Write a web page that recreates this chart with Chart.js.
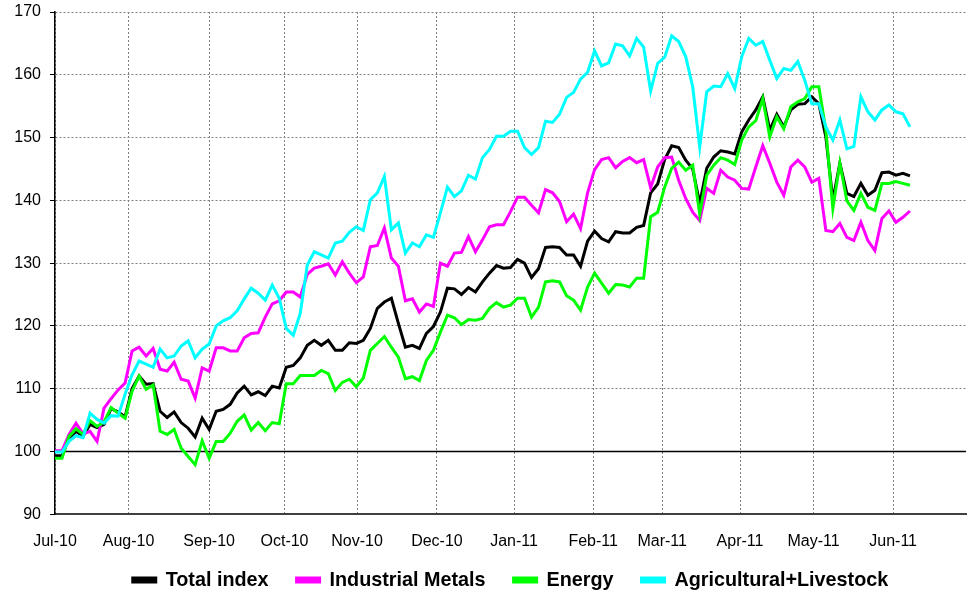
<!DOCTYPE html>
<html>
<head>
<meta charset="utf-8">
<title>Commodity indices</title>
<script src="https://cdn.jsdelivr.net/npm/chart.js@4.4.1/dist/chart.umd.min.js"></script>
<style>
    html, body { margin: 0; padding: 0; background: #fff; }
</style>
</head>
<body>
<canvas id="indexChart" width="967" height="594"></canvas>
<script>
// Month labels and the trading-day index where each month starts
const monthLabels = ['Jul-10', 'Aug-10', 'Sep-10', 'Oct-10', 'Nov-10', 'Dec-10',
    'Jan-11', 'Feb-11', 'Mar-11', 'Apr-11', 'May-11', 'Jun-11'];
const monthDays = [0, 21, 44, 65.5, 86.2, 109, 131, 153.6, 173.3, 195.5, 216.5, 239.2];

// Sample every second trading day (0 .. 244)
const days = Array.from({ length: 123 }, (_, i) => i * 2);

const totalIndex = [
    99.3, 99.3, 102.1, 103.2, 102.4, 104.3, 103.8, 104.3, 106.8, 106.3, 105.5, 110, 112, 110.7,
    110.8, 106.4, 105.4, 106.3, 104.6, 103.7, 102.3, 105.3, 103.5, 106.4, 106.7, 107.5, 109.3, 110.4,
    109, 109.5, 108.9, 110.4, 110.1, 113.4, 113.7, 114.9, 116.9, 117.7, 116.9, 117.7, 116.1, 116.1, 117.3,
    117.2, 117.7, 119.6, 122.8, 123.8, 124.4, 120.4, 116.6, 116.9, 116.4, 118.8, 119.9, 122.2, 126, 125.9,
    125, 126.1, 125.4, 127, 128.4, 129.6, 129.2, 129.3, 130.6, 130, 127.7, 129.1, 132.5, 132.6,
    132.5, 131.3, 131.3, 129.5, 133.5, 135.1, 133.9, 133.4, 135, 134.8, 134.8, 135.7, 136,
    141.2, 142.6, 146.5, 148.7, 148.4, 146.4, 145, 139.5, 145.1, 146.9, 147.9, 147.7, 147.4, 150.9,
    152.8, 154.4, 156.5, 151.2, 153.7, 151.7, 154.4, 155.3, 155.4, 156.5, 155.4, 150.1, 140, 145.9,
    141.1, 140.6, 142.7, 140.8, 141.6, 144.4, 144.5, 144, 144.3, 143.9
];

const industrialMetals = [
    100.1, 100.1, 102.7, 104.5, 102.8, 103.2, 101.6, 106.9, 108.4, 109.8, 110.9, 116, 116.6, 115.2,
    116.4, 113.1, 112.8, 114.2, 111.5, 111.2, 108.5, 113.3, 112.8, 116.5, 116.5, 116, 116, 118.1,
    118.8, 118.9, 121.4, 123.5, 124, 125.4, 125.4, 124.6, 128.2, 129.2, 129.5, 129.9, 128.1, 130.2, 128.4,
    126.9, 127.8, 132.6, 132.8, 135.6, 130.8, 129.5, 124, 124.3, 122.2, 123.5, 123.1, 130, 129.5, 131.6,
    131.7, 134.2, 131.8, 133.7, 135.8, 136.1, 136.1, 138.2, 140.5, 140.5, 139.2, 138, 141.7, 141.2,
    139.8, 136.6, 137.8, 135.5, 141.2, 144.9, 146.5, 146.8, 145.2, 146.2, 146.8, 146, 146.5,
    142, 145.3, 146.8, 146.9, 143.2, 140.3, 138.1, 136.8, 141.9, 141.1, 144.8, 143.7, 143.2, 141.9,
    141.8, 145.3, 148.7, 145.9, 142.9, 140.8, 145.3, 146.4, 145.3, 142.9, 143.5, 135.2, 135, 136.3,
    134.1, 133.6, 136.5, 133.6, 132, 137.1, 138.3, 136.5, 137.3, 138.3
];

const energy = [
    98.9, 98.9, 102.4, 103.6, 102.7, 104.9, 104, 104.7, 107, 106.1, 105.3, 109.6, 112, 109.9,
    110.6, 103.2, 102.7, 103.5, 100.5, 99.2, 97.9, 101.7, 98.9, 101.6, 101.6, 102.9, 104.8, 105.8,
    103.4, 104.6, 103.3, 104.6, 104.4, 110.8, 110.8, 112.1, 112.1, 112.1, 112.9, 112.4, 109.7, 111, 111.5,
    110.3, 111.7, 116.1, 117.2, 118.3, 116.6, 115, 111.6, 111.9, 111.3, 114.5, 116.1, 119, 121.7, 121.3,
    120.2, 121, 120.9, 121.2, 122.8, 123.7, 123, 123.3, 124.4, 124.4, 121.4, 123, 127, 127.2,
    127, 124.8, 124.1, 122.5, 126.2, 128.4, 126.8, 125.2, 126.6, 126.5, 126.2, 127.6, 127.6,
    137.4, 138.1, 142.1, 145.1, 146.1, 144.8, 145.6, 137.8, 144, 145.6, 146.8, 146.4, 145.7, 149.6,
    151.7, 152.7, 156.2, 150.1, 153.3, 151.4, 154.9, 155.7, 156.2, 158.1, 158.1, 151.2, 138.7, 145.9,
    139.9, 138.4, 141.1, 138.9, 138.4, 142.7, 142.7, 143, 142.7, 142.4
];

const agriLivestock = [
    99.9, 99.9, 101.6, 102.5, 102.2, 106.1, 105.1, 104.5, 105.7, 105.6, 109.1, 112.2, 114.4, 113.9,
    113.4, 116.3, 114.9, 115.2, 116.8, 117.6, 114.9, 116.3, 117.1, 120, 120.8, 121.3, 122.4, 124.3,
    126, 125.2, 124.1, 126.5, 124.4, 119.6, 118.5, 122, 129.7, 131.8, 131.3, 130.8, 133.2, 133.5, 134.9,
    135.8, 135.2, 140.1, 141.2, 143.8, 135.3, 136.4, 131.6, 133.2, 132.6, 134.5, 134.1, 138, 142.1, 140.6,
    141.5, 144, 143.4, 146.8, 148.1, 150.2, 150.2, 151, 151, 148.4, 147.3, 148.4, 152.6, 152.4,
    153.7, 156.4, 157.2, 159.3, 160.4, 163.8, 161.4, 161.9, 164.9, 164.6, 163, 165.8, 164.4,
    157.4, 161.8, 162.8, 166.2, 165.3, 162.9, 158.1, 148.5, 157.3, 158.2, 158.1, 160.2, 157.8, 162.9,
    165.8, 164.7, 165.3, 162.3, 159.4, 161, 160.7, 162.1, 159.1, 155.4, 155.4, 151.7, 149.6, 152.8,
    148.2, 148.6, 156.5, 154.1, 152.8, 154.4, 155.2, 154.1, 153.8, 151.7
];

function toPoints(values) {
    return values.map((v, i) => ({ x: days[i], y: v }));
}

function makeDataset(label, values, color, order) {
    return {
        label: label,
        data: toPoints(values),
        borderColor: color,
        backgroundColor: color,
        borderWidth: 3,
        pointRadius: 0,
        tension: 0,
        order: order
    };
}

// solid line at 100 drawn under the series
const baselinePlugin = {
    id: 'baseline',
    beforeDatasetsDraw(chart) {
        const { ctx, chartArea, scales } = chart;
        const y = scales.y.getPixelForValue(100);
        ctx.save();
        ctx.strokeStyle = '#000';
        ctx.lineWidth = 1.5;
        ctx.beginPath();
        ctx.moveTo(chartArea.left, y);
        ctx.lineTo(chartArea.right, y);
        ctx.stroke();
        ctx.restore();
    }
};

Chart.defaults.font.family = '"Liberation Sans", Arial, sans-serif';
Chart.defaults.color = '#000';

new Chart(document.getElementById('indexChart'), {
    type: 'line',
    data: {
        datasets: [
            makeDataset('Total index', totalIndex, '#000000', 4),
            makeDataset('Industrial Metals', industrialMetals, '#ff00ff', 3),
            makeDataset('Energy', energy, '#00ff00', 2),
            makeDataset('Agricultural+Livestock', agriLivestock, '#00ffff', 1)
        ]
    },
    options: {
        responsive: false,
        animation: false,
        layout: { padding: { left: 0, right: 1, top: 12, bottom: -6 } },
        plugins: {
            tooltip: { enabled: false },
            legend: {
                position: 'bottom',
                fullSize: false,
                labels: {
                    boxWidth: 23,
                    boxHeight: 4,
                    padding: 28,
                    font: { size: 19.8, weight: 'bold' },
                    sort: (a, b) => a.datasetIndex - b.datasetIndex
                }
            }
        },
        scales: {
            x: {
                type: 'linear',
                min: 0,
                max: 260,
                afterBuildTicks: (scale) => {
                    scale.ticks = monthDays.map(v => ({ value: v }));
                },
                afterFit: (scale) => {
                    scale.height = 28;
                    scale.paddingLeft = 0;
                    scale.paddingRight = 0;
                },
                ticks: {
                    autoSkip: false,
                    maxRotation: 0,
                    mirror: true,
                    padding: -37,
                    font: { size: 16 },
                    callback: (value) => {
                        const i = monthDays.indexOf(value);
                        return i >= 0 ? monthLabels[i] : '';
                    }
                },
                grid: { color: '#808080', lineWidth: 1, drawTicks: false },
                border: { color: '#404040', width: 2, dash: [2, 2] }
            },
            y: {
                min: 90,
                max: 170,
                afterFit: (scale) => {
                    scale.width = 55;
                    scale.paddingTop = 0;
                    scale.paddingBottom = 0;
                },
                ticks: { stepSize: 10, padding: 9, font: { size: 16 } },
                grid: { color: '#808080', lineWidth: 1, tickLength: 5, tickColor: '#000' },
                border: { color: '#000', width: 1.5, dash: [2, 2] }
            }
        }
    },
    plugins: [baselinePlugin]
});
</script>
</body>
</html>
